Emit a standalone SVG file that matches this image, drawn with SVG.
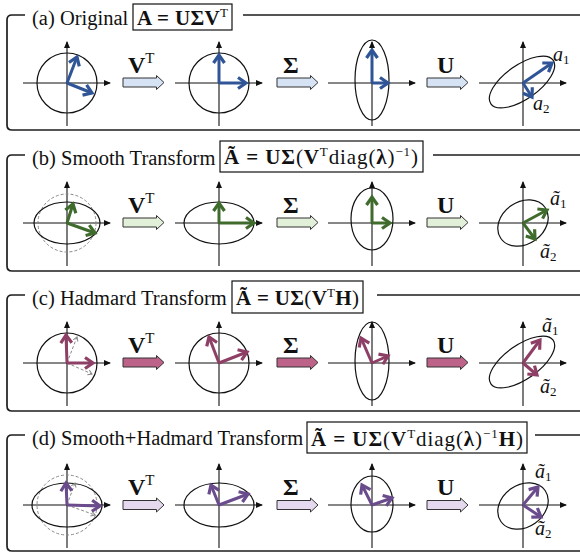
<svg xmlns="http://www.w3.org/2000/svg" xmlns:xlink="http://www.w3.org/1999/xlink" width="580" height="554" viewBox="0 0 580 554">
<style>
.frame{fill:none;stroke:#1e1e1e;stroke-width:1.7}
.box{fill:#fff;stroke:#111;stroke-width:1.2}
.ttl{font-family:"Liberation Serif","Times New Roman",serif;font-size:20.5px;fill:#111}
.fm{font-family:"Liberation Serif","Times New Roman",serif;font-size:21px;fill:#111}
.b{font-weight:bold}
.sup{font-size:13px;font-weight:normal}
.op{font-family:"Liberation Serif","Times New Roman",serif;font-size:24px;font-weight:bold;fill:#111}
.opsup{font-size:15px;font-weight:normal}
.lab{font-family:"Liberation Serif","Times New Roman",serif;font-size:20px;font-style:italic;fill:#111}
.sub{font-size:13px;font-style:normal}
.ax{stroke:#111;stroke-width:1.1;fill:none;marker-end:url(#ah)}
.shape{fill:none;stroke:#111;stroke-width:1.2}
.dc{fill:none;stroke:#8a8a8a;stroke-width:1;stroke-dasharray:3 2}
.vb{stroke:#2F5597;stroke-width:3;marker-end:url(#mb)}
.vg{stroke:#3F6B2D;stroke-width:3;marker-end:url(#mg)}
.vm{stroke:#8E3F66;stroke-width:3;marker-end:url(#mm)}
.vp{stroke:#6A4B8C;stroke-width:3;marker-end:url(#mp)}
.vd{stroke:#8a8a8a;stroke-width:1;stroke-dasharray:3 2;marker-end:url(#md)}
.blk{stroke:#333;stroke-width:1}
.fb{fill:#D6E3F4}
.fgr{fill:#E2EFD9}
.fmr{fill:#BD6289}
.fpu{fill:#E4D9EF}
</style>
<defs>
<marker id="ah" markerUnits="userSpaceOnUse" markerWidth="8" markerHeight="8" refX="0" refY="0" orient="auto" overflow="visible"><path d="M-6,-3 L1,0 L-6,3 Z" fill="#111"/></marker>
<marker id="mb" markerUnits="userSpaceOnUse" markerWidth="12" markerHeight="12" refX="0" refY="0" orient="auto" overflow="visible"><path d="M-8,-5.5 L0,0 L-8,5.5" fill="none" stroke="#2F5597" stroke-width="3.2"/></marker>
<marker id="mg" markerUnits="userSpaceOnUse" markerWidth="12" markerHeight="12" refX="0" refY="0" orient="auto" overflow="visible"><path d="M-8,-5.5 L0,0 L-8,5.5" fill="none" stroke="#3F6B2D" stroke-width="3.2"/></marker>
<marker id="mm" markerUnits="userSpaceOnUse" markerWidth="12" markerHeight="12" refX="0" refY="0" orient="auto" overflow="visible"><path d="M-8,-5.5 L0,0 L-8,5.5" fill="none" stroke="#8E3F66" stroke-width="3.2"/></marker>
<marker id="mp" markerUnits="userSpaceOnUse" markerWidth="12" markerHeight="12" refX="0" refY="0" orient="auto" overflow="visible"><path d="M-8,-5.5 L0,0 L-8,5.5" fill="none" stroke="#6A4B8C" stroke-width="3.2"/></marker>
<marker id="md" markerUnits="userSpaceOnUse" markerWidth="8" markerHeight="8" refX="0" refY="0" orient="auto" overflow="visible"><path d="M-4,-2.5 L0,0 L-4,2.5" fill="none" stroke="#8a8a8a" stroke-width="1"/></marker>
<g id="axes"><line class="ax" x1="-44" y1="0" x2="43" y2="0"/><line class="ax" x1="0" y1="43" x2="0" y2="-41"/></g>
<path id="blkarrow" d="M0,-4.5 H33.5 V-7 L41,0 L33.5,7 V4.5 H0 Z"/>
</defs>

<!-- frames -->
<g id="frames">
<path class="frame" d="M25,15 H12 Q7,15 7,20 V125 Q7,130 12,130 H580 M243,15 H580"/>
<path class="frame" d="M25,155 H12 Q7,155 7,160 V266 Q7,271 12,271 H580 M433,155 H580"/>
<path class="frame" d="M25,295 H12 Q7,295 7,300 V406 Q7,411 12,411 H580 M377,295 H580"/>
<path class="frame" d="M25,435 H12 Q7,435 7,440 V546 Q7,551 12,551 H580 M535,435 H580"/>
</g>

<!-- titles -->
<g id="title-a"><text class="ttl" x="32" y="25">(a) Original</text>
<rect class="box" x="133" y="4" width="99" height="26"/>
<text class="fm" x="137" y="25" textLength="91"><tspan class="b">A = UΣV</tspan><tspan class="sup" dy="-8">T</tspan></text></g>
<g id="title-b"><text class="ttl" x="32" y="165">(b) Smooth Transform</text>
<rect class="box" x="220" y="141" width="203" height="31"/>
<text class="fm" x="224" y="164" textLength="194"><tspan class="b">Ã = UΣ</tspan><tspan>(</tspan><tspan class="b">V</tspan><tspan class="sup" dy="-8">T</tspan><tspan dy="8">diag(</tspan><tspan class="b">λ</tspan><tspan>)</tspan><tspan class="sup" dy="-8">−1</tspan><tspan dy="8">)</tspan></text></g>
<g id="title-c"><text class="ttl" x="32" y="305">(c) Hadmard Transform</text>
<rect class="box" x="232" y="281" width="131" height="32"/>
<text class="fm" x="236" y="305" textLength="123"><tspan class="b">Ã = UΣ</tspan><tspan>(</tspan><tspan class="b">V</tspan><tspan class="sup" dy="-8">T</tspan><tspan class="b" dy="8">H</tspan><tspan>)</tspan></text></g>
<g id="title-d"><text class="ttl" x="32" y="445">(d) Smooth+Hadmard Transform</text>
<rect class="box" x="307" y="422" width="220" height="31"/>
<text class="fm" x="311" y="446" textLength="212"><tspan class="b">Ã = UΣ</tspan><tspan>(</tspan><tspan class="b">V</tspan><tspan class="sup" dy="-8">T</tspan><tspan dy="8">diag(</tspan><tspan class="b">λ</tspan><tspan>)</tspan><tspan class="sup" dy="-8">−1</tspan><tspan class="b" dy="8">H</tspan><tspan>)</tspan></text></g>

<!-- panel a -->
<g id="a1" transform="translate(67,83)"><use xlink:href="#axes"/><circle class="shape" r="30"/><line class="vb" x1="0" y1="0" x2="10" y2="-26"/><line class="vb" x1="0" y1="0" x2="25" y2="10"/></g>
<g id="a2" transform="translate(219,83)"><use xlink:href="#axes"/><circle class="shape" r="30"/><line class="vb" x1="0" y1="0" x2="0" y2="-28"/><line class="vb" x1="0" y1="0" x2="27" y2="0"/></g>
<g id="a3" transform="translate(372,83)"><use xlink:href="#axes"/><ellipse class="shape" cx="0" cy="-3" rx="17" ry="40"/><line class="vb" x1="0" y1="0" x2="0" y2="-33"/><line class="vb" x1="0" y1="0" x2="16" y2="0"/></g>
<g id="a4" transform="translate(523,83)"><use xlink:href="#axes"/><ellipse class="shape" rx="38" ry="17" transform="translate(-1,-1) rotate(-35)"/><line class="vb" x1="0" y1="0" x2="29" y2="-20"/><line class="vb" x1="0" y1="0" x2="9" y2="14"/></g>
<text class="lab" x="553" y="61">a<tspan class="sub" dy="3">1</tspan></text>
<text class="lab" x="533" y="110">a<tspan class="sub" dy="3">2</tspan></text>

<!-- panel b -->
<g id="b1" transform="translate(67,223)"><use xlink:href="#axes"/><circle class="dc" r="29"/><ellipse class="shape" rx="33" ry="21"/><line class="vg" x1="0" y1="0" x2="6" y2="-19"/><line class="vg" x1="0" y1="0" x2="28" y2="10"/></g>
<g id="b2" transform="translate(219,223)"><use xlink:href="#axes"/><ellipse class="shape" rx="35" ry="21"/><line class="vg" x1="0" y1="0" x2="0" y2="-20"/><line class="vg" x1="0" y1="0" x2="35" y2="0"/></g>
<g id="b3" transform="translate(372,223)"><use xlink:href="#axes"/><ellipse class="shape" cx="0" cy="-4" rx="21" ry="31"/><line class="vg" x1="0" y1="0" x2="0" y2="-26"/><line class="vg" x1="0" y1="0" x2="18" y2="0"/></g>
<g id="b4" transform="translate(523,223)"><use xlink:href="#axes"/><ellipse class="shape" rx="27" ry="21" transform="rotate(-35)"/><line class="vg" x1="0" y1="0" x2="24" y2="-13"/><line class="vg" x1="0" y1="0" x2="12" y2="16"/></g>
<text class="lab" x="550" y="205">ã<tspan class="sub" dy="3">1</tspan></text>
<text class="lab" x="540" y="258">ã<tspan class="sub" dy="3">2</tspan></text>

<!-- panel c -->
<g id="c1" transform="translate(67,363)"><use xlink:href="#axes"/><circle class="shape" r="30"/><line class="vd" x1="0" y1="0" x2="10" y2="-26"/><line class="vd" x1="0" y1="0" x2="25" y2="11"/><line class="vm" x1="0" y1="0" x2="-1" y2="-28"/><line class="vm" x1="0" y1="0" x2="26" y2="0"/></g>
<g id="c2" transform="translate(219,363)"><use xlink:href="#axes"/><circle class="shape" r="30"/><line class="vm" x1="0" y1="0" x2="-10" y2="-26"/><line class="vm" x1="0" y1="0" x2="28" y2="-11"/></g>
<g id="c3" transform="translate(372,363)"><use xlink:href="#axes"/><ellipse class="shape" cx="0" cy="-2" rx="17" ry="39"/><line class="vm" x1="0" y1="0" x2="-11" y2="-25"/><line class="vm" x1="0" y1="0" x2="16" y2="-7"/></g>
<g id="c4" transform="translate(523,363)"><use xlink:href="#axes"/><ellipse class="shape" rx="38" ry="17" transform="translate(-1,-1) rotate(-35)"/><line class="vm" x1="0" y1="0" x2="17" y2="-23"/><line class="vm" x1="0" y1="0" x2="14" y2="12"/></g>
<text class="lab" x="542" y="332">ã<tspan class="sub" dy="3">1</tspan></text>
<text class="lab" x="540" y="393">ã<tspan class="sub" dy="3">2</tspan></text>

<!-- panel d -->
<g id="d1" transform="translate(67,505)"><use xlink:href="#axes"/><circle class="dc" r="30"/><ellipse class="shape" rx="35" ry="22"/><line class="vd" x1="0" y1="0" x2="8" y2="-22"/><line class="vd" x1="0" y1="0" x2="28" y2="10"/><line class="vp" x1="0" y1="0" x2="-1" y2="-22"/><line class="vp" x1="0" y1="0" x2="33" y2="1"/></g>
<g id="d2" transform="translate(219,505)"><use xlink:href="#axes"/><ellipse class="shape" rx="35" ry="22"/><line class="vp" x1="0" y1="0" x2="-8" y2="-20"/><line class="vp" x1="0" y1="0" x2="29" y2="-11"/></g>
<g id="d3" transform="translate(372,505)"><use xlink:href="#axes"/><ellipse class="shape" cx="0" cy="-1" rx="21" ry="28"/><line class="vp" x1="0" y1="0" x2="-10" y2="-20"/><line class="vp" x1="0" y1="0" x2="20" y2="-7"/></g>
<g id="d4" transform="translate(523,505)"><use xlink:href="#axes"/><ellipse class="shape" rx="27" ry="21" transform="translate(0,1) rotate(-35)"/><line class="vp" x1="0" y1="0" x2="15" y2="-18"/><line class="vp" x1="0" y1="0" x2="18" y2="12"/></g>
<text class="lab" x="535" y="478">ã<tspan class="sub" dy="3">1</tspan></text>
<text class="lab" x="535" y="535">ã<tspan class="sub" dy="3">2</tspan></text>

<!-- connectors -->
<g id="connectors">
<use xlink:href="#blkarrow" class="blk fb" x="123" y="82.5"/>
<use xlink:href="#blkarrow" class="blk fb" x="277" y="82.5"/>
<use xlink:href="#blkarrow" class="blk fb" x="427" y="82.5"/>
<use xlink:href="#blkarrow" class="blk fgr" x="123" y="222.5"/>
<use xlink:href="#blkarrow" class="blk fgr" x="277" y="222.5"/>
<use xlink:href="#blkarrow" class="blk fgr" x="427" y="222.5"/>
<use xlink:href="#blkarrow" class="blk fmr" x="123" y="362.5"/>
<use xlink:href="#blkarrow" class="blk fmr" x="277" y="362.5"/>
<use xlink:href="#blkarrow" class="blk fmr" x="427" y="362.5"/>
<use xlink:href="#blkarrow" class="blk fpu" x="123" y="505"/>
<use xlink:href="#blkarrow" class="blk fpu" x="277" y="505"/>
<use xlink:href="#blkarrow" class="blk fpu" x="427" y="505"/>
<text class="op" x="128" y="73">V<tspan class="opsup" dy="-10">T</tspan></text>
<text class="op" x="283" y="73">Σ</text>
<text class="op" x="437" y="73">U</text>
<text class="op" x="128" y="213">V<tspan class="opsup" dy="-10">T</tspan></text>
<text class="op" x="283" y="213">Σ</text>
<text class="op" x="437" y="213">U</text>
<text class="op" x="128" y="353">V<tspan class="opsup" dy="-10">T</tspan></text>
<text class="op" x="283" y="353">Σ</text>
<text class="op" x="437" y="353">U</text>
<text class="op" x="128" y="495">V<tspan class="opsup" dy="-10">T</tspan></text>
<text class="op" x="283" y="495">Σ</text>
<text class="op" x="437" y="495">U</text>
</g>
</svg>
